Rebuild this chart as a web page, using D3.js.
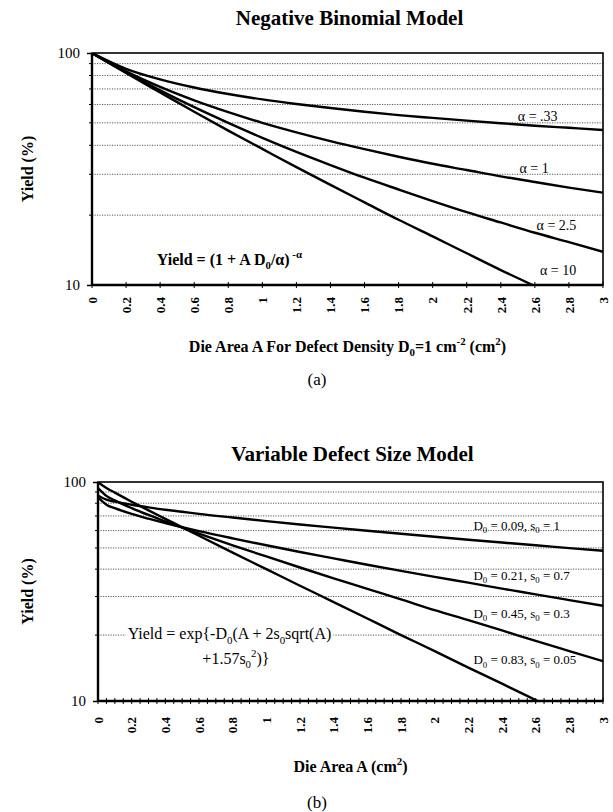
<!DOCTYPE html>
<html><head><meta charset="utf-8">
<script src="https://cdn.jsdelivr.net/npm/d3@7"></script>
<style>
body{margin:0;background:#fff}
svg{display:block;font-family:"Liberation Serif","Times New Roman",serif}
</style>
</head><body>
<svg id="c" width="613" height="812"></svg>
<script>
// ---------- data ----------
const xTicks = [0,0.2,0.4,0.6,0.8,1,1.2,1.4,1.6,1.8,2,2.2,2.4,2.6,2.8,3];
const xTickLabels = ["0","0.2","0.4","0.6","0.8","1","1.2","1.4","1.6","1.8","2","2.2","2.4","2.6","2.8","3"];
const yTickValues = [10,100];
const gridValues = [20,30,40,50,60,70,80,90];

// (a) Negative binomial model, yield (%) vs die area A
const nbAreas   = [0,0.2,0.4,0.6,0.8,1,1.2,1.4,1.6,1.8,2,2.2,2.4,2.6,2.8,3];
const nbAlpha033 = [100,85.5,77.0,71.0,66.6,63.1,60.3,57.9,55.8,54.0,52.5,51.1,49.8,48.6,47.6,46.6];
const nbAlpha1   = [100,83.3,71.4,62.5,55.6,50.0,45.5,41.7,38.5,35.7,33.3,31.3,29.4,27.8,26.3,25.0];
const nbAlpha25  = [100,82.5,69.0,58.4,50.0,43.1,37.5,32.9,29.0,25.8,23.0,20.6,18.6,16.8,15.3,13.9];
const nbAlpha10  = [100,82.0,67.6,55.8,46.3,38.6,32.2,27.0,22.7,19.1,16.2,13.7,11.6,9.9];
const nbNames = ["α = .33","α = 1","α = 2.5","α = 10"];

// (b) Variable defect size model
const vdAreas = [0,0.05,0.1,0.2,0.3,0.4,0.5,0.6,0.8,1,1.2,1.4,1.6,1.8,2,2.2,2.4,2.6,2.8,3];
const vdS1 = [86.8,83.0,81.3,78.7,76.6,74.7,73.1,71.5,68.8,66.3,64.0,61.9,59.9,58.0,56.2,54.5,52.9,51.4,49.9,48.5];
const vdS2 = [85.1,78.8,75.9,71.5,68.0,64.9,62.2,59.7,55.3,51.4,47.9,44.8,41.9,39.3,36.9,34.7,32.6,30.7,28.9,27.2];
const vdS3 = [93.8,86.4,82.4,76.0,70.7,66.1,61.9,58.1,51.4,45.7,40.7,36.3,32.5,29.1,26.0,23.4,21.0,18.8,16.9,15.2];
const vdS4 = [99.7,93.9,89.4,81.3,74.2,67.9,62.1,56.8,47.6,40.0,33.6,28.3,23.8,20.0,16.9,14.2,12.0,10.1,8.5];
const vdD0 = ["0.09","0.21","0.45","0.83"];
const vdS0 = ["1","0.7","0.3","0.05"];

// ---------- drawing ----------
const svg = d3.select("#c");

function rich(g, parts, fs, attrs){
  const t = g.append("text").attr("font-size", fs);
  Object.entries(attrs).forEach(([k,v])=>t.attr(k,v));
  let shift = 0;
  parts.forEach(p=>{
    const ts = t.append("tspan").text(p.t);
    let target = p.sub ? fs*0.28 : (p.sup ? -fs*0.42 : 0);
    if (target !== shift) { ts.attr("dy", target - shift); shift = target; }
    if (p.sub || p.sup) ts.attr("font-size", fs*0.68);
  });
  return t;
}

function panel(o){
  const x = d3.scaleLinear().domain([0,3]).range([o.left,o.right]);
  const y = d3.scaleLog().domain([10,100]).range([o.bottom,o.top]);
  const g = svg.append("g");
  const cid = "clip"+o.id;
  svg.append("clipPath").attr("id",cid).append("rect")
    .attr("x",o.left).attr("y",o.top).attr("width",o.right-o.left).attr("height",o.bottom-o.top);

  // title
  g.append("text").attr("x",(o.left+o.right)/2+2).attr("y",o.titleY)
    .attr("text-anchor","middle").attr("font-size",21).attr("font-weight","bold").text(o.title);

  // gridlines
  g.selectAll("line.grid").data(gridValues).join("line").attr("class","grid")
    .attr("x1",o.left).attr("x2",o.right).attr("y1",d=>y(d)).attr("y2",d=>y(d))
    .attr("stroke","#444").attr("stroke-width",0.9).attr("stroke-dasharray","1.2,1.3");
  // small left ticks at grid levels
  g.selectAll("line.mt").data(gridValues).join("line").attr("class","mt")
    .attr("x1",o.left-3).attr("x2",o.left).attr("y1",d=>y(d)).attr("y2",d=>y(d))
    .attr("stroke","#000").attr("stroke-width",1);

  if (o.under) o.under(g,x,y);

  // curves
  const line = d3.line().x(d=>x(d[0])).y(d=>y(d[1])).curve(d3.curveMonotoneX);
  o.series.forEach(s=>{
    const pts = s.map((v,i)=>[o.areas[i],v]);
    g.append("path").attr("d",line(pts)).attr("fill","none").attr("stroke","#000")
      .attr("stroke-width",2.4).attr("stroke-linejoin","round").attr("clip-path",`url(#${cid})`);
  });

  // frame
  g.append("rect").attr("x",o.left).attr("y",o.top).attr("width",o.right-o.left).attr("height",o.bottom-o.top)
    .attr("fill","none").attr("stroke","#000").attr("stroke-width",1.6);
  g.append("line").attr("x1",o.left).attr("x2",o.right).attr("y1",o.bottom).attr("y2",o.bottom)
    .attr("stroke","#000").attr("stroke-width",2.4);
  g.append("line").attr("x1",o.left).attr("x2",o.left).attr("y1",o.top).attr("y2",o.bottom)
    .attr("stroke","#000").attr("stroke-width",2.4);

  // x ticks crossing axis
  g.selectAll("line.xt").data(o.minorX).join("line").attr("class","xt")
    .attr("x1",d=>x(d)).attr("x2",d=>x(d)).attr("y1",o.bottom-3).attr("y2",o.bottom+3)
    .attr("stroke","#000").attr("stroke-width",1);

  // x axis labels
  const xa = g.append("g").attr("transform",`translate(0,${o.bottom})`)
    .call(d3.axisBottom(x).tickValues(xTicks).tickFormat((d,i)=>xTickLabels[i]).tickSize(0));
  xa.select(".domain").remove();
  xa.selectAll("text").attr("transform","rotate(-90)").attr("x",-o.xLabGap).attr("y",0)
    .attr("dy","0.33em").style("text-anchor","end")
    .attr("font-family","Liberation Serif, Times New Roman, serif")
    .attr("font-size",13).attr("font-weight","bold").attr("fill","#000");

  // y axis
  const ya = g.append("g").attr("transform",`translate(${o.left},0)`)
    .call(d3.axisLeft(y).tickValues(yTickValues).tickFormat(d3.format("d")).tickSize(5).tickPadding(7));
  ya.select(".domain").remove();
  ya.selectAll("line").attr("stroke","#000").attr("stroke-width",1.5);
  ya.selectAll("text").attr("font-family","Liberation Serif, Times New Roman, serif")
    .attr("font-size",15).attr("fill","#000");

  // y title
  g.append("text").attr("transform",`translate(27,${(o.top+o.bottom)/2}) rotate(-90)`)
    .attr("text-anchor","middle").attr("dy","0.35em").attr("font-size",16).attr("font-weight","bold").text("Yield (%)");

  // x title
  rich(g, o.xTitle, 16, {x:(o.left+o.right)/2, y:o.xTitleY, "text-anchor":"middle", "font-weight":"bold"});

  // caption
  g.append("text").attr("x",317).attr("y",o.capY).attr("text-anchor","middle").attr("font-size",17).text(o.cap);

  if (o.after) o.after(g,x,y);
}

// (a)
panel({
  id:"a", left:92, right:603, top:53, bottom:285, titleY:25,
  title:"Negative Binomial Model",
  areas:nbAreas, series:[nbAlpha033,nbAlpha1,nbAlpha25,nbAlpha10],
  minorX:xTicks, xLabGap:12,
  xTitle:[{t:"Die Area A For Defect Density D"},{t:"0",sub:true},{t:"=1 cm"},{t:"-2",sup:true},{t:" (cm"},{t:"2",sup:true},{t:")"}],
  xTitleY:352, cap:"(a)", capY:385,
  after:(g,x,y)=>{
    const pos = [[2.5,53.5],[2.51,31.9],[2.61,18.1],[2.63,11.6]];
    nbNames.forEach((n,i)=>{
      g.append("text").attr("x",x(pos[i][0])).attr("y",y(pos[i][1])).attr("dy","0.35em")
        .attr("font-size",14).text(n);
    });
    rich(g,[{t:"Yield = (1 + A D"},{t:"0",sub:true},{t:"/α)"},{t:" -α",sup:true}],16,
      {x:x(0.38), y:y(12.9), dy:"0.35em", "font-weight":"bold"});
  }
});

// (b)
const minorB = d3.range(0,61).map(i=>i*0.05);
panel({
  id:"b", left:98, right:603, top:482, bottom:701, titleY:461,
  title:"Variable Defect Size Model",
  areas:vdAreas, series:[vdS1,vdS2,vdS3,vdS4],
  minorX:minorB, xLabGap:16,
  xTitle:[{t:"Die Area A (cm"},{t:"2",sup:true},{t:")"}],
  xTitleY:772, cap:"(b)", capY:808,
  under:(g,x,y)=>{
    const t = rich(g,[{t:"Yield = exp{-D"},{t:"0",sub:true},{t:"(A + 2s"},{t:"0",sub:true},{t:"sqrt(A)"}],16,
      {x:x(0.176), y:y(20.3), dy:"0.35em"});
    const b = t.node().getBBox();
    g.insert("rect","text:last-of-type").attr("x",b.x-2).attr("y",b.y+2).attr("width",b.width+4).attr("height",b.height-4).attr("fill","#fff");
    t.raise();
    rich(g,[{t:"+1.57s"},{t:"0",sub:true},{t:"2",sup:true},{t:")}"}],16,{x:x(0.62), y:y(15.7), dy:"0.35em"});
  },
  after:(g,x,y)=>{
    const pos = [[2.23,63.6],[2.23,37.6],[2.23,25.2],[2.23,15.4]];
    vdD0.forEach((d,i)=>{
      rich(g,[{t:"D"},{t:"0",sub:true},{t:" = "+d+", s"},{t:"0",sub:true},{t:" = "+vdS0[i]}],13,
        {x:x(pos[i][0]), y:y(pos[i][1]), dy:"0.35em"});
    });
  }
});
</script>
</body></html>
